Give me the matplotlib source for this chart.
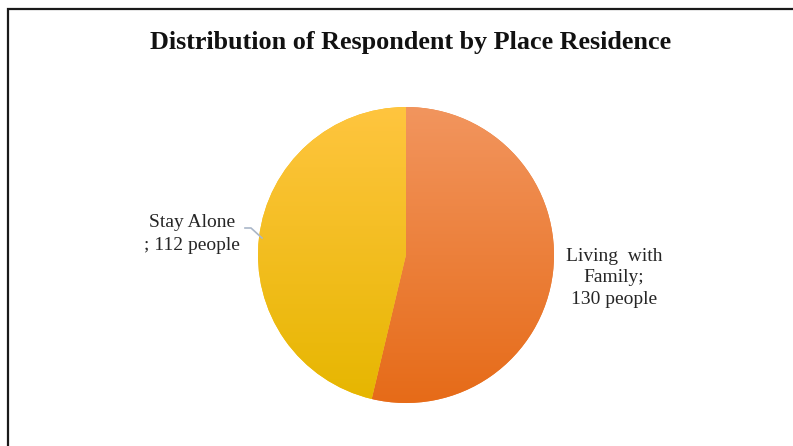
import matplotlib
matplotlib.use("Agg")
import matplotlib.pyplot as plt
import numpy as np
from matplotlib.colors import LinearSegmentedColormap
from matplotlib.patches import Rectangle

categories = ["Living with Family", "Stay Alone"]
values = [130, 112]
label_texts = ["Living  with\nFamily;\n130 people", "Stay Alone\n; 112 people"]
title = "Distribution of Respondent by Place Residence"

W, H = 793, 446
fig = plt.figure(figsize=(W / 100, H / 100), dpi=100)
ax = fig.add_axes([0, 0, 1, 1])

serif = ["Liberation Serif", "DejaVu Serif"]

cx, cy, r = 406, H - 255, 148
wedges, _ = ax.pie(values, startangle=90, counterclock=False, center=(cx, cy),
                   radius=r, colors=["#EC7E35", "#F8BE14"],
                   wedgeprops=dict(linewidth=0), frame=True)
ax.set_xlim(0, W)
ax.set_ylim(0, H)
ax.set_aspect("equal")
ax.axis("off")

# border
ax.add_patch(Rectangle((7.5, -20), W + 40, (H - 8.5) + 20, fill=False,
                       edgecolor="#1a1a1a", linewidth=1.6))

grads = [("#F2955E", "#E66B18"), ("#FFC53F", "#E6B600")]
for w, (top, bot) in zip(wedges, grads):
    cmap = LinearSegmentedColormap.from_list("g", [bot, top])
    grad = np.linspace(0, 1, 256).reshape(-1, 1)
    im = ax.imshow(grad, cmap=cmap, origin="lower", aspect="auto",
                   extent=(cx - r, cx + r, cy - r, cy + r), zorder=2)
    im.set_clip_path(w)

ax.text(411, H - 43, title, ha="center", va="center",
        fontsize=18.8, fontweight="bold", family=serif, color="#111111")

ax.text(614, H - 278, label_texts[0], ha="center", va="center",
        fontsize=14, family=serif, color="#262626", linespacing=1.35)
ax.text(192, H - 234, label_texts[1], ha="center", va="center",
        fontsize=14, family=serif, color="#262626", linespacing=1.4)
ax.plot([245, 251, 262], [H - 228, H - 228, H - 238], color="#A9B6C8",
        linewidth=1.2, zorder=3)

fig.savefig("out.png", dpi=100)
